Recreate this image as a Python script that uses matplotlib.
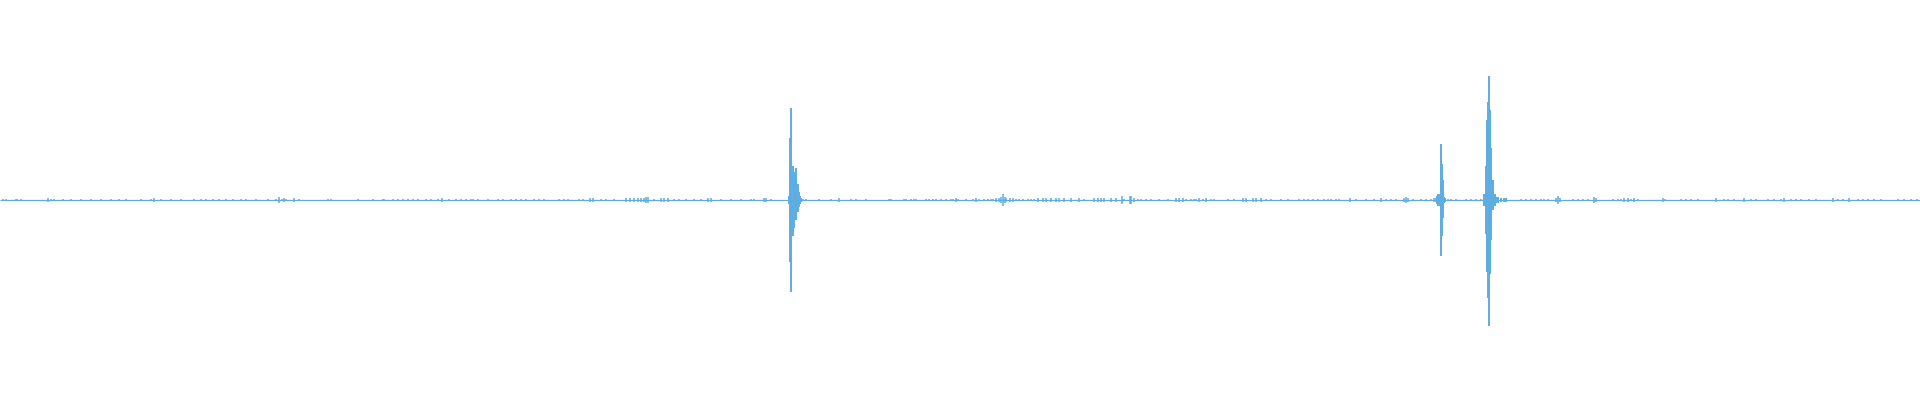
import matplotlib
matplotlib.use("Agg")
import matplotlib.pyplot as plt

# --- waveform data (time in s, amplitude in full scale) ---
duration = 192.0
wave_color = "#5DADE2"

# big bursts: per-column envelope
burst_t = [78.8, 78.9, 79.0, 79.1, 79.2, 79.3, 79.4, 79.5, 79.6, 79.7, 79.8, 79.9, 80.0,
           143.6, 143.7, 143.9, 144.0, 144.1, 144.2, 144.3, 144.4,
           148.3, 148.4, 148.5, 148.6, 148.7, 148.8, 148.9, 149.0, 149.1, 149.2,
           149.3, 149.4, 149.5, 149.7, 150.0, 150.3, 150.5]
burst_hi = [0.02, 0.31, 0.46, 0.25, 0.17, 0.14, 0.11, 0.10, 0.16, 0.08, 0.04, 0.02, 0.01,
            0.02, 0.03, 0.03, 0.28, 0.18, 0.10, 0.015, 0.01,
            0.03, 0.03, 0.17, 0.40, 0.49, 0.62, 0.45, 0.26, 0.10, 0.10,
            0.03, 0.03, 0.015, 0.015, 0.01, 0.01, 0.008]
burst_lo = [-0.02, -0.31, -0.46, -0.26, -0.18, -0.14, -0.08, -0.07, -0.10, -0.06, -0.035, -0.02, -0.01,
            -0.02, -0.03, -0.03, -0.28, -0.18, -0.09, -0.015, -0.01,
            -0.03, -0.03, -0.17, -0.36, -0.49, -0.63, -0.37, -0.20, -0.05, -0.05,
            -0.03, -0.03, -0.015, -0.015, -0.01, -0.01, -0.008]

# background noise ticks
noise_t = [0.2, 0.5, 1.5, 1.6, 2.0, 4.7, 5.0, 5.3, 6.2, 7.0, 8.0, 9.0, 10.0, 11.0, 11.8, 12.5,
           14.0, 15.0, 15.3, 16.0, 17.0, 18.0, 19.3, 20.0, 20.5, 21.2, 21.8, 22.5, 23.2, 24.0,
           24.5, 25.5, 26.7, 27.5, 27.8, 28.1, 28.3, 28.5, 29.3, 29.8, 32.7, 33.0, 35.8, 37.2,
           38.2, 38.4, 39.2, 39.8,
           40.2, 40.7, 41.3, 41.8, 42.5, 43.0, 43.7, 44.1, 44.9, 45.5, 46.0, 46.5, 47.0, 47.3,
           47.8, 48.7, 49.8, 50.3, 51.0, 51.5, 52.0, 52.5, 53.3, 53.8, 54.3, 55.8, 56.3, 56.7,
           57.8, 58.2, 58.9, 59.2, 60.0, 60.5, 61.3, 62.5, 62.9, 63.3, 63.7, 64.0, 64.3, 64.6,
           64.7, 65.3, 66.0, 66.3, 66.7, 67.3, 67.8, 68.5, 69.3, 70.0, 70.7, 71.0, 72.0, 73.0,
           74.0, 75.0, 75.3, 76.3, 76.5, 77.0,
           80.2, 80.5, 81.8, 83.0, 83.8, 85.0, 85.5, 86.5, 88.8, 89.0, 90.3, 90.5, 91.0, 91.3,
           91.5, 92.5, 92.8, 93.2, 93.5, 94.0, 94.5, 95.0, 95.2,
           95.5, 95.7, 96.5, 97.2, 97.5, 97.8, 98.3, 98.7, 99.0, 99.2, 99.5, 99.8, 100.0, 100.2,
           100.4, 100.6, 100.9, 101.2, 101.5, 101.8, 102.2, 102.7, 103.0, 103.3, 103.7, 104.2,
           104.5, 105.0, 105.5, 105.8, 106.3, 107.0, 107.8, 108.3, 109.3, 109.7, 110.0, 110.3,
           111.0, 111.5, 112.1, 112.3, 112.9, 113.0, 113.3, 113.7, 114.0, 114.5, 115.0, 115.8,
           116.7, 117.5, 117.8, 118.2, 118.5, 119.0, 119.3, 119.5, 119.8, 120.2, 120.5, 121.0,
           121.3, 122.7, 123.3, 124.2, 124.5, 125.2, 125.5, 126.0, 126.5, 127.0, 128.0, 128.7,
           129.8, 130.3, 130.7, 131.2, 131.7, 132.3, 132.7, 133.0, 133.5, 133.8, 134.9,
           135.5, 136.5, 137.3, 138.0, 138.5, 139.0, 139.5, 140.3, 140.5, 140.7, 141.2, 142.0,
           142.5, 143.0, 143.3, 143.5,
           144.7, 145.0, 145.5, 146.5, 147.0, 147.5, 148.0,
           152.0, 152.5, 153.0, 153.5, 154.0, 154.3, 154.7, 155.5, 155.7, 155.9, 157.2, 157.7,
           158.2, 158.7, 159.3, 159.5, 161.2, 161.7, 162.0, 162.3, 162.7, 163.0, 163.3, 163.7,
           166.2, 166.4, 168.0, 168.5, 169.0, 169.7, 171.5, 172.3, 172.7, 173.3, 174.3, 175.0,
           175.5, 176.7, 177.3, 178.0, 178.3, 179.0, 179.5, 180.0, 180.8, 181.5, 183.2, 183.7,
           184.2, 184.8, 185.7, 186.2, 186.7, 187.3, 188.0, 189.7, 190.3, 191.0, 191.6]
noise_a = [.005, .005, .005, .005, .005, .01, .005, .005, .005, .005, .005, .005, .005, .005, .005, .005,
           .005, .005, .01, .005, .005, .005, .005, .005, .005, .005, .005, .005, .005, .005,
           .005, .005, .005, .005, .015, .005, .01, .005, .01, .005, .005, .005, .005, .005,
           .005, .005, .005, .005,
           .005, .005, .005, .005, .005, .005, .005, .01, .005, .005, .005, .005, .005, .005,
           .005, .005, .005, .005, .005, .005, .005, .005, .005, .005, .005, .005, .005, .005,
           .005, .005, .01, .01, .005, .005, .005, .01, .01, .01, .01, .01, .01, .015,
           .015, .005, .01, .01, .01, .005, .005, .005, .005, .005, .01, .01, .005, .005,
           .005, .005, .005, .01, .01, .005,
           .005, .005, .005, .005, .01, .005, .005, .005, .005, .005, .005, .005, .005, .005,
           .005, .005, .005, .005, .005, .005, .005, .005, .005,
           .01, .005, .005, .005, .01, .005, .005, .005, .005, .005, .01, .01, .015, .031,
           .015, .01, .01, .01, .005, .005, .005, .005, .005, .005, .01, .01,
           .01, .01, .01, .01, .01, .01, .01, .005, .01, .01, .01, .01,
           .01, .01, .02, .005, .02, .02, .01, .005, .005, .005, .005, .005,
           .005, .01, .01, .01, .005, .005, .005, .005, .01, .005, .01, .005,
           .005, .005, .005, .01, .01, .01, .01, .01, .005, .005, .005, .005,
           .005, .005, .005, .005, .005, .005, .005, .005, .005, .005, .01,
           .005, .005, .005, .01, .005, .005, .005, .01, .015, .01, .005, .005,
           .005, .005, .01, .01,
           .005, .005, .005, .005, .005, .005, .005,
           .005, .005, .005, .005, .005, .005, .005, .008, .022, .008, .005, .005,
           .005, .005, .015, .008, .005, .005, .005, .01, .01, .005, .01, .005,
           .01, .005, .005, .005, .005, .005, .01, .005, .005, .005, .01, .005,
           .005, .005, .005, .005, .01, .005, .005, .005, .005, .005, .01, .005,
           .005, .01, .005, .005, .005, .005, .005, .005, .005, .005, .005]

fig = plt.figure(figsize=(19.2, 4), dpi=100)
ax = fig.add_axes([0, 0, 1, 1])

# centre line
ax.hlines(0, 0, duration, color=wave_color, lw=0.9)
# noise
ax.vlines([t + 0.05 for t in noise_t], [-a for a in noise_a], noise_a, color=wave_color, lw=1.1)
# bursts
ax.vlines([t + 0.05 for t in burst_t], burst_lo, burst_hi, color=wave_color, lw=1.4)

ax.set_xlim(0, duration)
ax.set_ylim(-1, 1)
ax.axis("off")

fig.savefig("out.png", dpi=100, facecolor="white")
plt.close(fig)
